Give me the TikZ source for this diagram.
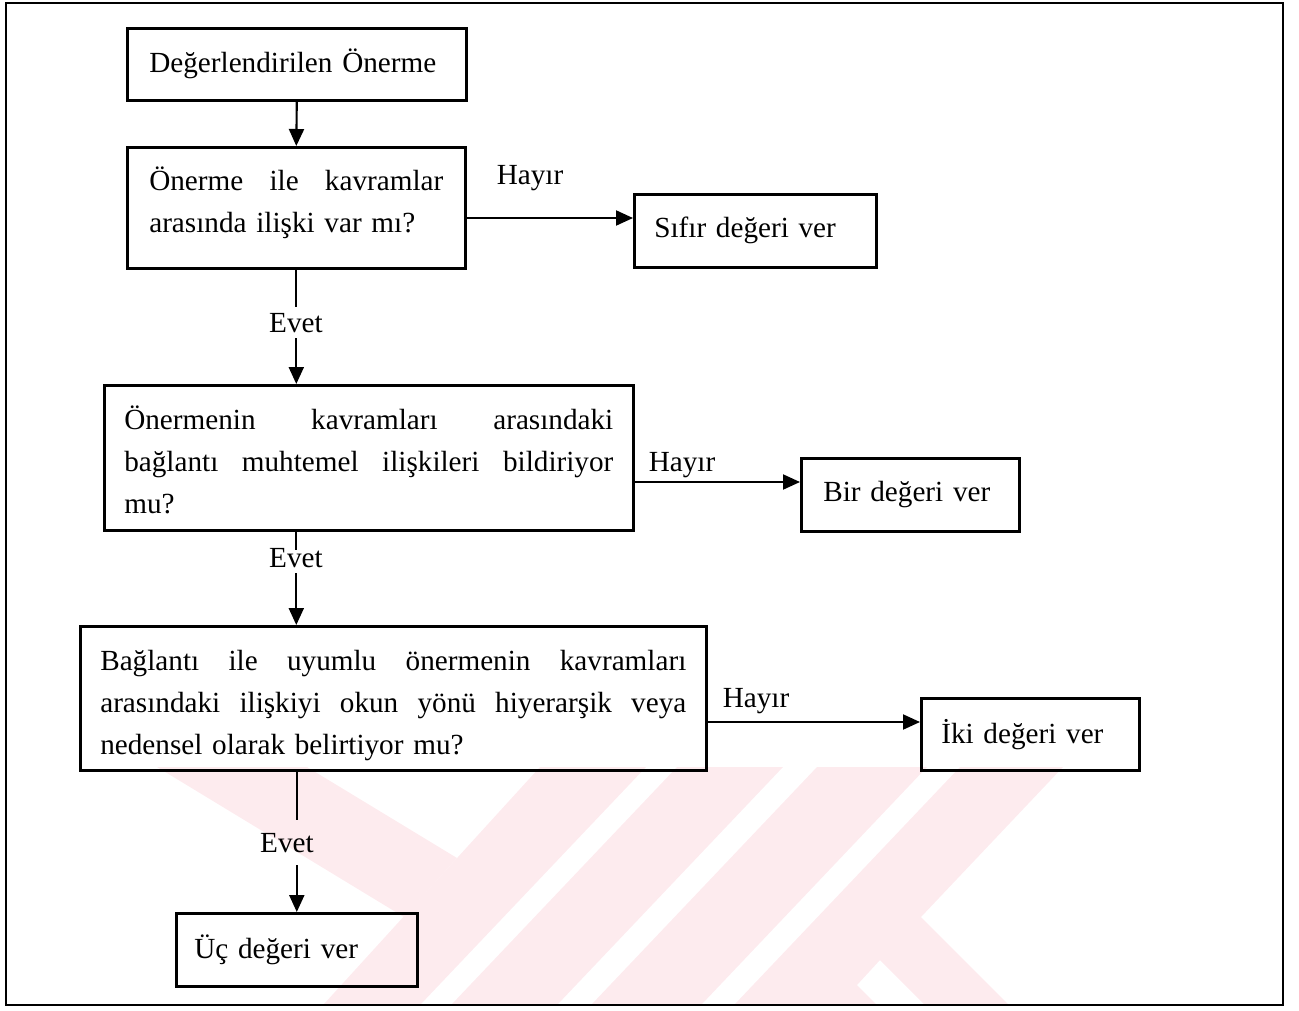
\documentclass[tikz,border=0pt]{standalone}
\usepackage{fontspec}
\setmainfont{Liberation Serif}
\usetikzlibrary{arrows.meta}
\definecolor{wmpink}{RGB}{253,235,238}
% a full-width line whose words are spread evenly
\newcommand{\spreadline}[2]{\makebox[#1]{#2}}
\begin{document}
\begin{tikzpicture}[x=1pt,y=-1pt,
  font=\fontsize{29.2pt}{42pt}\selectfont,
  box/.style={draw, line width=2.6pt, anchor=north west, inner xsep=20pt, inner ysep=0pt, align=left},
  lbl/.style={anchor=base, inner xsep=1pt, inner ysep=6pt},
  link/.style={line width=2.1pt},
  arr/.style={line width=2.1pt, -{Triangle[length=17pt,width=15pt]}},
]
\useasboundingbox (0,0) rectangle (1299,1010);

% faint emblem in the lower band
\begin{scope}
  \clip (140,767) rectangle (1283,1004);
  \fill[wmpink] (157,767) -- (307,767) -- (457,858) -- (404,917) -- cycle;
  \fill[wmpink] (540,767) -- (646,767) -- (421,1004) -- (324,1004) -- cycle;
  \fill[wmpink] (677,767) -- (783,767) -- (558,1004) -- (452,1004) -- cycle;
  \fill[wmpink] (817,767) -- (927,767) -- (702,1004) -- (592,1004) -- cycle;
  \fill[wmpink] (960,767) -- (1063,767) -- (921,917) -- (1008,1004) -- (924,1004)
     -- (880,960) -- (857,985) -- (876,1004) -- (735,1004) -- cycle;
\end{scope}

% outer frame
\draw[line width=2.4pt] (6,3) rectangle (1283,1005);

% boxes
\node[box, inner xsep=22pt, text width=295pt, minimum height=72pt] (b1) at (126,27)
  {Değerlendirilen Önerme};
\node[box, inner xsep=22pt, text width=294pt, minimum height=121pt] (b2) at (126,146)
  {\rule{0pt}{34pt}\spreadline{294pt}{Önerme\hfill ile\hfill kavramlar}\\
   arasında ilişki var mı?\rule[-27pt]{0pt}{0pt}};
\node[box, text width=202pt, minimum height=73pt] (sifir) at (633,193)
  {Sıfır değeri ver};
\node[box, text width=489pt, minimum height=145pt] (b3) at (103,384)
  {\rule{0pt}{37pt}\spreadline{489pt}{Önermenin\hfill kavramları\hfill arasındaki}\\
   \spreadline{489pt}{bağlantı\hfill muhtemel\hfill ilişkileri\hfill bildiriyor}\\
   mu?\rule[-10pt]{0pt}{0pt}};
\node[box, inner xsep=22pt, text width=174pt, minimum height=73pt] (bir) at (800,457)
  {Bir değeri ver};
\node[box, text width=586pt, minimum height=144pt] (b4) at (79,625)
  {\rule{0pt}{38pt}\spreadline{586pt}{Bağlantı\hfill ile\hfill uyumlu\hfill önermenin\hfill kavramları}\\
   \spreadline{586pt}{arasındaki\hfill ilişkiyi\hfill okun\hfill yönü\hfill hiyerarşik\hfill veya}\\
   nedensel olarak belirtiyor mu?\rule[-10pt]{0pt}{0pt}};
\node[box, text width=178pt, minimum height=72pt] (iki) at (920,697)
  {İki değeri ver};
\node[box, inner xsep=18pt, text width=205pt, minimum height=73pt] (u) at (175,912)
  {Üç değeri ver};

% branch labels
\node[lbl] (h1) at (530,184) {Hayır};
\node[lbl] (h2) at (682,471) {Hayır};
\node[lbl] (h3) at (756,707) {Hayır};
\node[lbl] (e1) at (296,332) {Evet};
\node[lbl] (e2) at (296,567) {Evet};
\node[lbl, inner ysep=13pt] (e3) at (287,852) {Evet};

% heights of the side arrows
\coordinate (r1) at (0,218);
\coordinate (r2) at (0,482);
\coordinate (r3) at (0,722);

% connectors
\draw[arr] (b1.south) -- (b2.north);

\draw[link] (b2.south) -- (e1.north -| b2.south);
\draw[arr] (e1.south -| b2.south) -- (b3.north -| b2.south);
\draw[arr] (b2.east |- r1) -- (sifir.west |- r1);

\draw[link] (b3.south -| b2.south) -- ([yshift=-8pt]e2.north -| b2.south);
\draw[arr] (e2.south -| b2.south) -- (b4.north -| b2.south);
\draw[arr] (b3.east |- r2) -- (bir.west |- r2);

\draw[link] (b4.south -| u.north) -- (e3.north -| u.north);
\draw[arr] (e3.south -| u.north) -- (u.north);
\draw[arr] (b4.east |- r3) -- (iki.west |- r3);
\end{tikzpicture}
\end{document}
